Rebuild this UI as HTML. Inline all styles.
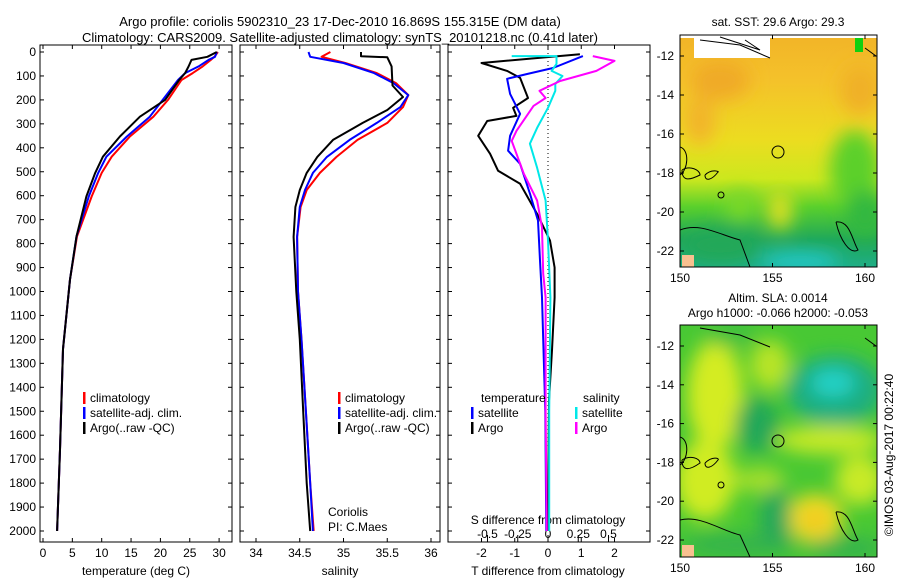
<!DOCTYPE html>
<html><head><meta charset="utf-8"><style>
body{margin:0;background:#fff}
svg{display:block;font-family:"Liberation Sans",sans-serif;font-size:12px}
</style></head><body>
<svg id="c" width="900" height="580" viewBox="0 0 900 580">
<defs>
<filter id="bl" x="-20%" y="-20%" width="140%" height="140%"><feGaussianBlur stdDeviation="9"/></filter>
<clipPath id="cm1"><rect x="680" y="35" width="197" height="232"/></clipPath>
<clipPath id="cm2"><rect x="680" y="325" width="197" height="232"/></clipPath>
<linearGradient id="g1" x1="0" y1="0" x2="0" y2="1">
<stop offset="0" stop-color="#f2b428"/><stop offset="0.2" stop-color="#f4c22a"/><stop offset="0.45" stop-color="#ecdc20"/><stop offset="0.62" stop-color="#cde81e"/><stop offset="0.74" stop-color="#5ad02c"/><stop offset="0.88" stop-color="#20a858"/><stop offset="1" stop-color="#1fae86"/>
</linearGradient>
</defs>
<text x="340" y="26" text-anchor="middle" font-size="13">Argo profile: coriolis 5902310_23 17-Dec-2010 16.869S 155.315E (DM data)</text>
<text x="340" y="42" text-anchor="middle" font-size="13">Climatology: CARS2009. Satellite-adjusted climatology: synTS_20101218.nc (0.41d later)</text>

<g id="p1"></g>
<g id="p2"></g>
<g id="p3"></g>

<!-- top map -->
<g>
<text x="778" y="26" text-anchor="middle">sat. SST: 29.6  Argo: 29.3</text>
<g clip-path="url(#cm1)">
<rect x="680" y="35" width="197" height="232" fill="url(#g1)"/>
<g filter="url(#bl)">
<ellipse cx="720" cy="80" rx="30" ry="20" fill="#f0aa28"/>
<ellipse cx="860" cy="90" rx="20" ry="25" fill="#f0b028"/>
<ellipse cx="700" cy="120" rx="15" ry="25" fill="#f2b42a"/>
<ellipse cx="855" cy="170" rx="25" ry="40" fill="#5cd02c"/>
<ellipse cx="865" cy="215" rx="20" ry="25" fill="#30b840"/>
<ellipse cx="740" cy="205" rx="15" ry="15" fill="#7cd82a"/>
<ellipse cx="780" cy="210" rx="12" ry="20" fill="#e0e020"/>
<ellipse cx="800" cy="262" rx="40" ry="10" fill="#20c8c8"/>
<ellipse cx="720" cy="245" rx="40" ry="18" fill="#22a858"/>
</g>
<rect x="694" y="36" width="76" height="22" fill="#fff"/>
<rect x="680" y="35" width="197" height="3" fill="#fff"/>
<rect x="855" y="38" width="8" height="14" fill="#10d010"/>
<path d="M700 40 L740 45 L770 58 M720 37 L760 50 L745 40 M865 48 L876 56" stroke="#000" fill="none" stroke-width="1"/>
<path d="M680 230 C700 222 720 235 740 240 L750 267 M680 147 C690 150 688 170 680 175 M682 170 C690 165 700 170 700 175 C690 180 682 182 682 170 M705 175 C712 168 720 172 718 172 C712 180 705 182 705 175 M836 222 C850 220 852 240 858 250 C850 255 840 240 836 222" stroke="#000" fill="none" stroke-width="1"/>
<circle cx="721" cy="195" r="3" fill="none" stroke="#000"/>
<rect x="682" y="255" width="12" height="12" fill="#f8c090"/>
</g>
<circle cx="778" cy="152" r="6" fill="none" stroke="#000"/>
<rect x="680" y="35" width="197" height="232" fill="none" stroke="#000"/>
<g id="m1ax"></g>
</g>

<!-- bottom map -->
<g>
<text x="778" y="302" text-anchor="middle">Altim. SLA: 0.0014</text>
<text x="778" y="317" text-anchor="middle">Argo h1000: -0.066 h2000: -0.053</text>
<g clip-path="url(#cm2)">
<rect x="680" y="325" width="197" height="232" fill="#48c834"/>
<g filter="url(#bl)">
<ellipse cx="715" cy="395" rx="28" ry="55" fill="#d4ec22"/>
<ellipse cx="705" cy="480" rx="30" ry="40" fill="#d0ec22"/>
<ellipse cx="770" cy="365" rx="20" ry="25" fill="#b8e428"/>
<ellipse cx="757" cy="425" rx="22" ry="28" fill="#22a858"/>
<ellipse cx="835" cy="390" rx="48" ry="35" fill="#1fae80"/>
<ellipse cx="833" cy="383" rx="22" ry="14" fill="#22d2c8"/>
<ellipse cx="830" cy="440" rx="55" ry="14" fill="#c8ea26"/>
<ellipse cx="860" cy="480" rx="25" ry="25" fill="#c8ea26"/>
<ellipse cx="815" cy="518" rx="28" ry="24" fill="#f0dc22"/>
<ellipse cx="815" cy="520" rx="12" ry="10" fill="#f2c424"/>
<ellipse cx="775" cy="520" rx="16" ry="35" fill="#28a85a"/>
<ellipse cx="760" cy="480" rx="25" ry="12" fill="#a8e02a"/>
<ellipse cx="740" cy="545" rx="60" ry="10" fill="#30b050"/>
<ellipse cx="845" cy="548" rx="40" ry="10" fill="#30b050"/>
<ellipse cx="730" cy="335" rx="25" ry="12" fill="#40c040"/>
</g>
<path d="M700 328 L740 335 L770 347 M865 338 L876 346" stroke="#000" fill="none"/>
<path d="M680 520 C700 515 720 530 740 535 L750 557 M680 437 C690 440 688 460 680 465 M682 460 C690 455 700 458 700 463 C690 470 682 472 682 460 M705 463 C712 456 720 458 718 460 C712 468 705 470 705 463 M836 512 C850 510 852 530 858 540 C850 545 840 530 836 512" stroke="#000" fill="none"/>
<circle cx="721" cy="485" r="3" fill="none" stroke="#000"/>
<rect x="682" y="545" width="12" height="12" fill="#f8c090"/>
</g>
<circle cx="778" cy="441" r="6" fill="none" stroke="#000"/>
<rect x="680" y="325" width="197" height="232" fill="none" stroke="#000"/>
<g id="m2ax"></g>
</g>
<text transform="translate(893,455) rotate(-90)" text-anchor="middle">©IMOS 03-Aug-2017 00:22:40</text>
</svg>
<script>
// ---- data ----
const tDepth = [0,20,33,60,88,117,200,270,353,437,505,603,770,950,1240,1660,2000];
const tClim  = [29.8,29.2,28.6,27.2,25.5,23.6,21.3,18.8,14.8,11.7,10.0,8.3,5.8,4.6,3.4,2.9,2.4];
const tSat   = [29.6,29.3,28.2,26.5,24.2,23.0,20.4,18.2,14.3,10.8,9.4,7.8,5.7,4.6,3.4,2.9,2.4];
const tArgo  = [29.6,28.0,25.3,24.8,24.2,23.2,20.8,16.5,13.1,10.2,8.9,7.4,5.7,4.6,3.4,2.9,2.4];
const sDepth = [0,20,46,88,130,180,230,296,367,438,505,576,647,772,1000,1200,1500,1800,2000];
const sClim  = [34.85,34.75,35.02,35.38,35.6,35.74,35.68,35.5,35.16,34.92,34.73,34.58,34.51,34.47,34.48,34.52,34.57,34.62,34.66];
const sSat   = [34.6,34.62,35.0,35.35,35.57,35.74,35.65,35.38,35.07,34.81,34.65,34.56,34.5,34.47,34.48,34.52,34.57,34.62,34.65];
const sArgoD = [0,18,22,60,140,188,242,296,367,438,505,576,647,772,1000,1200,1500,1800,2000];
const sArgo  = [35.2,35.2,35.5,35.55,35.56,35.68,35.5,35.22,34.88,34.7,34.58,34.5,34.45,34.43,34.46,34.5,34.54,34.58,34.62];
const dDepth = [9,46,79,108,192,233,267,288,350,425,496,550,675,787,900,1025,1245,1454,2000];
const dTArgo = [0.96,-2.0,-1.23,-0.84,-0.6,-1.05,-0.95,-1.83,-2.1,-1.74,-1.5,-0.84,-0.33,0.06,0.2,0.2,0.12,0.03,0.0];
const dDepth2= [17,67,92,112,175,258,350,412,467,592,704,870,1025,1500,2000];
const dTSat  = [1.05,0.15,-0.63,-1.23,-1.14,-0.84,-1.14,-1.2,-0.84,-0.54,-0.3,-0.24,-0.18,-0.08,-0.05];
const dDepth3= [17,37,79,121,162,192,225,329,371,508,620,733,925,1025,1500,2000];
const dSArgo = [0.37,0.55,0.4,0.1,-0.07,-0.02,-0.12,-0.26,-0.3,-0.2,-0.09,-0.05,-0.04,-0.02,-0.02,-0.01];
const dDepth4= [17,17,50,79,100,133,162,233,317,383,483,620,787,1025,1500,2000];
const dSSat  = [-0.3,0.07,0.07,0.03,0.12,0.06,0.06,0.0,-0.09,-0.15,-0.09,-0.02,0.0,0.02,0.01,0.01];
const depthTicks = [0,100,200,300,400,500,600,700,800,900,1000,1100,1200,1300,1400,1500,1600,1700,1800,1900,2000];
const tTicks = [0,5,10,15,20,25,30];
const sTicks = [34,34.5,35,35.5,36];
const dTTicks = [-2,-1,0,1,2];
const dSTicks = [-0.5,-0.25,0,0.25,0.5];
const dSTickLabels = ["-0.5","-0.25","0","0.25","0.5"];
const latTicks = [-12,-14,-16,-18,-20,-22];
const lonTicks = [150,155,160];

const NS='http://www.w3.org/2000/svg';
function mk(parent,tag,attrs,text){const e=document.createElementNS(NS,tag);for(const k in attrs)e.setAttribute(k,attrs[k]);if(text!==undefined)e.textContent=text;parent.appendChild(e);return e;}
const yD = d => 52 + d*0.2395;
const xT = t => 43 + t*5.87;
const xS = s => 256 + (s-34)*87.5;
const xDT = t => 548 + t*33.25;
const xDS = s => 548 + s*121;
const TOP=45, BOT=542;

function frame(g,x0,x1,name){
  const r=mk(g,'rect',{x:x0,y:TOP,width:x1-x0,height:BOT-TOP,fill:'none',stroke:'#000'});
  
  
  depthTicks.forEach(d=>{
    const y=yD(d);
    mk(g,'line',{x1:x0,x2:x0+4,y1:y,y2:y,stroke:'#000'});
    mk(g,'line',{x1:x1,x2:x1-4,y1:y,y2:y,stroke:'#000'});
  });
}
function line(g,xs,ds,fx,color,name){
  const pts=xs.map((v,i)=>fx(v).toFixed(1)+','+yD(ds[i]).toFixed(1)).join(' ');
  const p=mk(g,'polyline',{points:pts,fill:'none',stroke:color,'stroke-width':2,'stroke-linejoin':'round'});
  
  
}
function xticks(g,ticks,fx,labels,yl){
  ticks.forEach((t,i)=>{
    const x=fx(t);
    mk(g,'line',{x1:x,x2:x,y1:BOT,y2:BOT-4,stroke:'#000'});
    mk(g,'line',{x1:x,x2:x,y1:TOP,y2:TOP+4,stroke:'#000'});
    const tx=mk(g,'text',{x:x,y:yl,'text-anchor':'middle'},labels?labels[i]:String(t));
    
    
  });
}
function legend(g,x,y,items){
  items.forEach((it,i)=>{
    mk(g,'rect',{x:x,y:y+i*15-10,width:2.5,height:12,fill:it[0]});
    const t=mk(g,'text',{x:x+7,y:y+i*15},it[1]);
    
    
  });
}

// panel 1
const p1=document.getElementById('p1');
frame(p1,40,232,'temperature');
depthTicks.forEach(d=>{const t=mk(p1,'text',{x:36,y:yD(d)+4,'text-anchor':'end'},String(d));});
xticks(p1,tTicks,xT,null,557);
mk(p1,'text',{x:136,y:575,'text-anchor':'middle',},'temperature (deg C)');
line(p1,tClim,tDepth,xT,'#ff0000','temp-climatology-line');
line(p1,tSat,tDepth,xT,'#0000ff','temp-satellite-line');
line(p1,tArgo,tDepth,xT,'#000000','temp-argo-line');
legend(p1,83,402,[['#ff0000','climatology'],['#0000ff','satellite-adj. clim.'],['#000','Argo(..raw -QC)']]);

// panel 2
const p2=document.getElementById('p2');
frame(p2,240,440,'salinity');
xticks(p2,sTicks,xS,null,557);
mk(p2,'text',{x:340,y:575,'text-anchor':'middle',},'salinity');
line(p2,sClim,sDepth,xS,'#ff0000','sal-climatology-line');
line(p2,sSat,sDepth,xS,'#0000ff','sal-satellite-line');
line(p2,sArgo,sArgoD,xS,'#000000','sal-argo-line');
legend(p2,338,402,[['#ff0000','climatology'],['#0000ff','satellite-adj. clim.'],['#000','Argo(..raw -QC)']]);
mk(p2,'text',{x:328,y:516,},'Coriolis');
mk(p2,'text',{x:328,y:531,},'PI: C.Maes');

// panel 3
const p3=document.getElementById('p3');
frame(p3,448,650,'difference');
mk(p3,'line',{x1:548,x2:548,y1:TOP,y2:yD(1650),stroke:'#000','stroke-dasharray':'1,3'});
dTTicks.forEach(t=>{const x=xDT(t);mk(p3,'line',{x1:x,x2:x,y1:BOT,y2:BOT-4,stroke:'#000'});mk(p3,'line',{x1:x,x2:x,y1:TOP,y2:TOP+4,stroke:'#000'});const tx=mk(p3,'text',{x:x,y:557,'text-anchor':'middle'},String(t));});
dSTicks.forEach((s,i)=>{const x=xDS(s);mk(p3,'line',{x1:x,x2:x,y1:BOT,y2:BOT-7,stroke:'#000'});const tx=mk(p3,'text',{x:x,y:538,'text-anchor':'middle'},dSTickLabels[i]);});
mk(p3,'text',{x:548,y:524,'text-anchor':'middle',},'S difference from climatology');
mk(p3,'text',{x:548,y:575,'text-anchor':'middle',},'T difference from climatology');
line(p3,dTArgo,dDepth,xDT,'#000000','t-diff-argo-line');
line(p3,dTSat,dDepth2,xDT,'#0000ff','t-diff-satellite-line');
line(p3,dSSat,dDepth4,xDS,'#00e8e8','s-diff-satellite-line');
line(p3,dSArgo,dDepth3,xDS,'#ff00ff','s-diff-argo-line');
mk(p3,'text',{x:481,y:402,},'temperature');
mk(p3,'text',{x:583,y:402,},'salinity');
legend(p3,471,417,[['#0000ff','satellite'],['#000','Argo']]);
legend(p3,575,417,[['#00e8e8','satellite'],['#ff00ff','Argo']]);

// map axes
function mapAxes(id,y0,y1,latY,lblY){
  const g=document.getElementById(id);
  latTicks.forEach(l=>{const y=latY(l);mk(g,'line',{x1:680,x2:684,y1:y,y2:y,stroke:'#000'});mk(g,'line',{x1:877,x2:873,y1:y,y2:y,stroke:'#000'});const t=mk(g,'text',{x:674,y:y+4,'text-anchor':'end'},String(l));});
  lonTicks.forEach(l=>{const x=680+(l-150)*18.5;mk(g,'line',{x1:x,x2:x,y1:y1,y2:y1-4,stroke:'#000'});mk(g,'line',{x1:x,x2:x,y1:y0,y2:y0+4,stroke:'#000'});const t=mk(g,'text',{x:x,y:lblY,'text-anchor':'middle'},String(l));});
}
mapAxes('m1ax',35,267,l=>56+(-12-l)*19.5,282);
mapAxes('m2ax',325,557,l=>346+(-12-l)*19.4,572);
</script>
</body></html>
